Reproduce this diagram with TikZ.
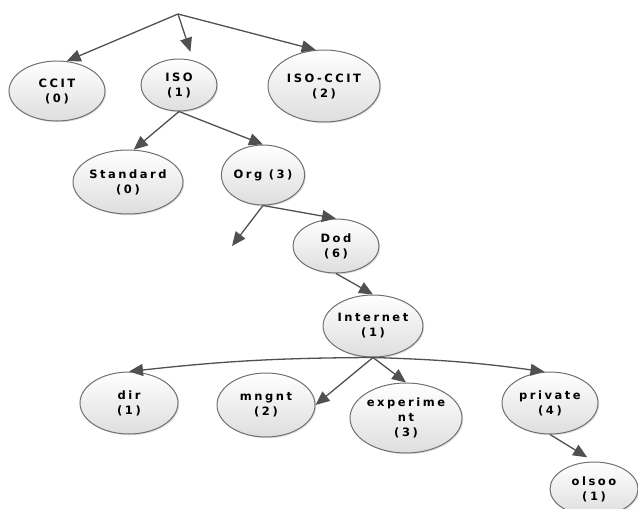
\documentclass[tikz,border=0pt]{standalone}
\usepackage{fontspec}
\newfontfamily\oidfont[LetterSpace=22]{DejaVu Sans Bold}
\usepackage{tikz}
\usetikzlibrary{shapes.geometric, arrows.meta, shadows, positioning}
\definecolor{edgegray}{HTML}{505050}
\definecolor{rimgray}{HTML}{707070}
\tikzset{oid/.style={ellipse, draw=rimgray, line width=1pt, top color=white, bottom color=black!13,
    drop shadow={shadow xshift=1.2pt, shadow yshift=-1.2pt, fill=black!25},
    inner sep=0pt, align=center, font=\oidfont\fontsize{11.5}{15}\selectfont},
  link/.style={->, draw=edgegray, line width=1.3pt}}

\begin{document}
\begin{tikzpicture}[x=1pt,y=-1pt,>={Triangle[length=14pt,width=12pt,fill=edgegray]}]
\useasboundingbox (0,0) rectangle (638,509);
% The root
\coordinate (root) at (178,14);
\coordinate (loose) at (232,246);
% The nodes
\node [oid, minimum width=96, minimum height=60] (ccit) at (57,91) {CCIT\\(0)};
\node [oid, minimum width=76, minimum height=52] (iso) at (179,85) {ISO\\(1)};
\node [oid, minimum width=112, minimum height=72] (isoccit) at (324,86) {ISO-CCIT\\(2)};
\node [oid, minimum width=110, minimum height=64] (std) at (128,182) {Standard\\(0)};
\node [oid, minimum width=80, minimum height=60] (org) at (263,175) {Org (3)};
\node [oid, minimum width=86, minimum height=54] (dod) at (336,246) {Dod\\(6)};
\node [oid, minimum width=96, minimum height=62] (inet) at (373,326) {Internet\\(1)};
\node [oid, minimum width=98, minimum height=62] (dir) at (129,403) {dir\\(1)};
\node [oid, minimum width=98, minimum height=64] (mngnt) at (266,405) {mngnt\\(2)};
\node [oid, minimum width=112, minimum height=70] (expt) at (406,418) {experime\\nt\\(3)};
\node [oid, minimum width=96, minimum height=62] (priv) at (550,403) {private\\(4)};
\node [oid, minimum width=88, minimum height=54] (olsoo) at (594,489) {olsoo\\(1)};
% The links
\draw [link] (root) -- (ccit.72);
\draw [link, shorten >=9pt] (root) -- (iso.60);
\draw [link] (root) -- (isoccit.103);
\draw [link] (iso.south) -- (std.80);
\draw [link] (iso.south) -- (org.north);
\draw [link] (org.south) -- (dod.north);
\draw [link] (org.south) -- (loose);
\draw [link] (dod.south) -- (inet.north);
\draw [link] (inet.south) to[bend right=3] (dir.north);
\draw [link] (inet.south) -- (mngnt.east);
\draw [link] (inet.south) -- (expt.north);
\draw [link] (inet.south) to[bend left=3] (priv.100);
\draw [link, shorten >=8pt] (priv.south) -- (olsoo.north);
\end{tikzpicture}
\end{document}
